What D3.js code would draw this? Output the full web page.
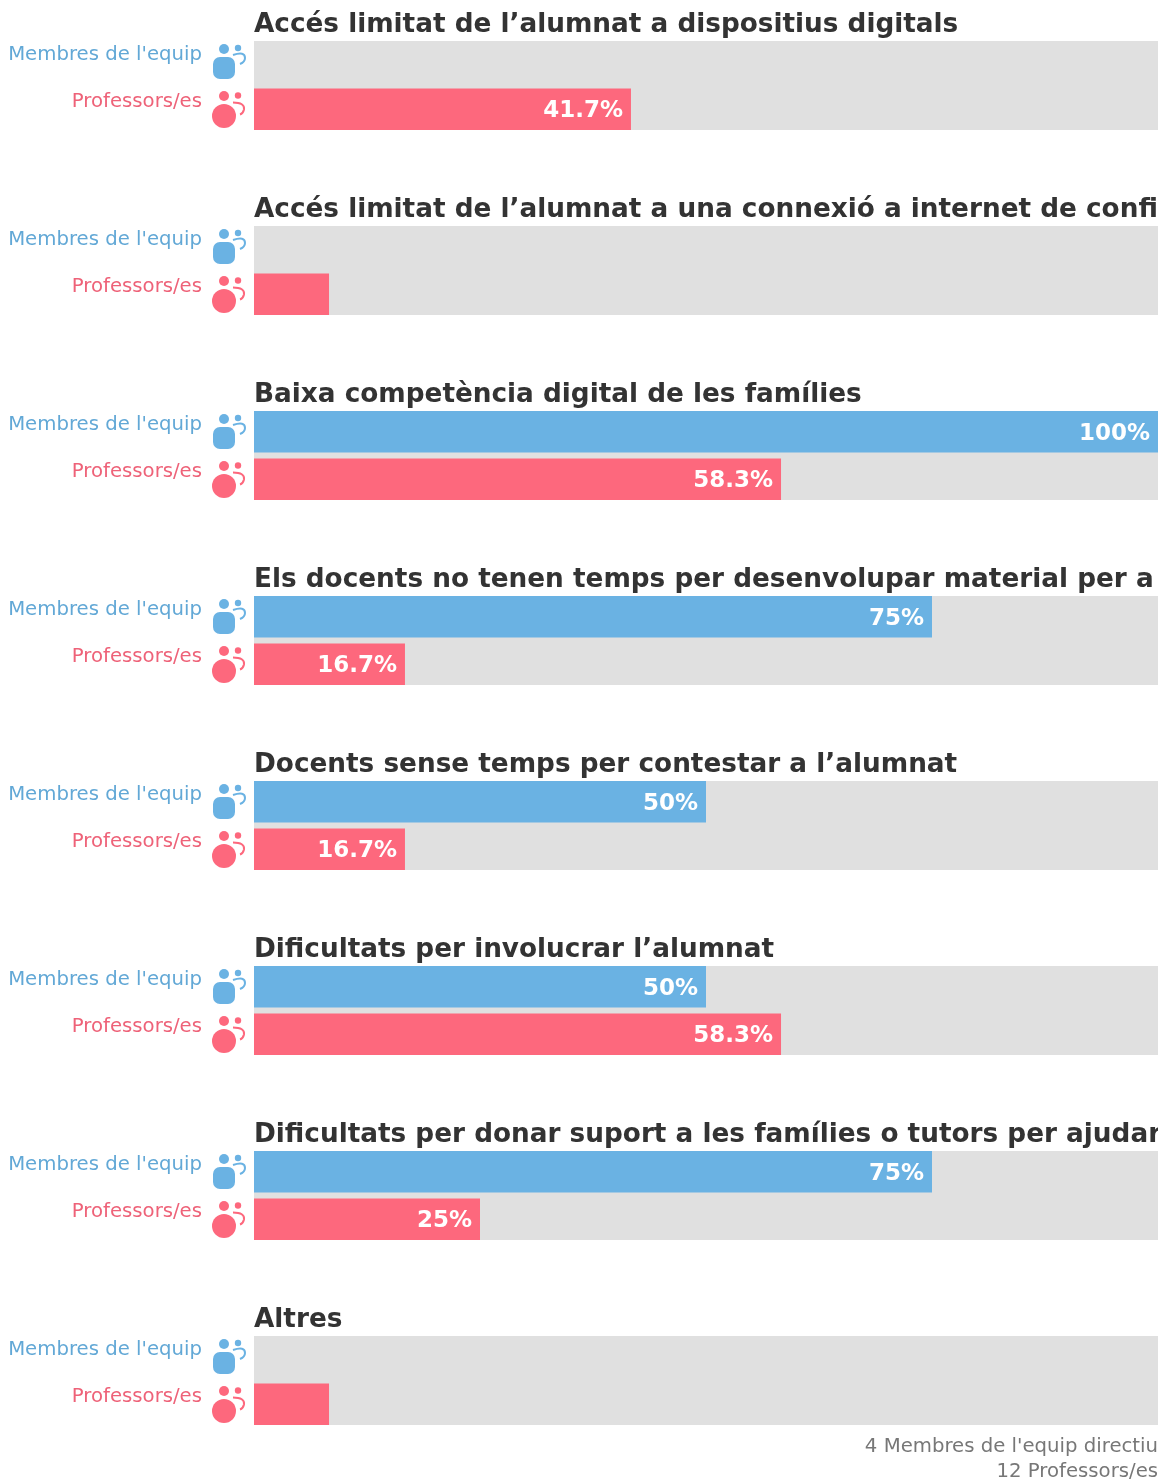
<!DOCTYPE html>
<html>
<head>
<meta charset="utf-8">
<script src="https://cdn.jsdelivr.net/npm/d3@7"></script>
<style>
  html, body { margin: 0; padding: 0; background: #fff; }
  svg { display: block; font-family: "DejaVu Sans", sans-serif; filter: blur(0.5px); }
</style>
</head>
<body>
<div id="chart"></div>
<script>
var categories = [
  "Accés limitat de l’alumnat a dispositius digitals",
  "Accés limitat de l’alumnat a una connexió a internet de confi",
  "Baixa competència digital de les famílies",
  "Els docents no tenen temps per desenvolupar material per a",
  "Docents sense temps per contestar a l’alumnat",
  "Dificultats per involucrar l’alumnat",
  "Dificultats per donar suport a les famílies o tutors per ajudar",
  "Altres"
];
var seriesNames = ["Membres de l'equip", "Professors/es"];
var equipValues = [0, 0, 100, 75, 50, 50, 75, 0];
var profValues = [41.7, 8.3, 58.3, 16.7, 16.7, 58.3, 25, 8.3];
var valueLabels = [
  [null, "41.7%"],
  [null, null],
  ["100%", "58.3%"],
  ["75%", "16.7%"],
  ["50%", "16.7%"],
  ["50%", "58.3%"],
  ["75%", "25%"],
  [null, null]
];
var footerLines = ["4 Membres de l'equip directiu", "12 Professors/es"];

var colors = ["#6ab2e3", "#fd687d"];
var labelColors = ["#62a8d6", "#ee6278"];

var width = 1164, height = 1479;
var plotLeft = 254, plotRight = 1158;
var rowHeight = 41.5, rowStep = 47.5, groupStep = 185, firstTop = 41;

var x = d3.scaleLinear().domain([0, 100]).range([plotLeft, plotRight]);
var y = d3.scaleBand()
    .domain(d3.range(categories.length))
    .range([firstTop, firstTop + groupStep * categories.length])
    .paddingInner(0).paddingOuter(0);
var rowY = d3.scaleOrdinal().domain([0, 1]).range([0, rowStep]);

var svg = d3.select("#chart").append("svg")
    .attr("width", width)
    .attr("height", height);

// the long titles are cut at the right end of the bars
svg.append("defs").append("clipPath")
    .attr("id", "titleClip")
  .append("rect")
    .attr("x", plotLeft)
    .attr("y", -60)
    .attr("width", plotRight - plotLeft)
    .attr("height", 60);

var group = svg.selectAll(".group")
    .data(categories)
  .enter().append("g")
    .attr("class", "group")
    .attr("transform", (d, i) => `translate(0,${y(i)})`);

group.append("text")
    .attr("clip-path", "url(#titleClip)")
    .attr("x", plotLeft)
    .attr("y", -9)
    .attr("font-size", 26.3)
    .attr("font-weight", "bold")
    .attr("fill", "#333333")
    .text(d => d);

// grey track behind both bars
group.append("rect")
    .attr("x", x(0))
    .attr("y", 0)
    .attr("width", x(100) - x(0))
    .attr("height", rowStep + rowHeight)
    .attr("fill", "#e0e0e0");

var row = group.selectAll(".row")
    .data((d, i) => seriesNames.map((name, s) => ({
      name: name,
      s: s,
      value: s == 0 ? equipValues[i] : profValues[i],
      label: valueLabels[i][s]
    })))
  .enter().append("g")
    .attr("class", "row")
    .attr("transform", d => `translate(0,${rowY(d.s)})`);

row.append("rect")
    .attr("x", x(0))
    .attr("width", d => x(d.value) - x(0))
    .attr("height", rowHeight)
    .attr("fill", d => colors[d.s]);

row.append("text")
    .attr("x", d => x(d.value) - 8)
    .attr("y", 28.5)
    .attr("text-anchor", "end")
    .attr("font-size", 23)
    .attr("font-weight", "bold")
    .attr("fill", "#fff")
    .text(d => d.label);

row.append("text")
    .attr("x", 202)
    .attr("y", d => d.s == 0 ? 19 : 18.5)
    .attr("text-anchor", "end")
    .attr("font-size", 19.7)
    .attr("fill", d => labelColors[d.s])
    .text(d => d.name);

// person icons
var icon = row.append("g")
    .attr("transform", "translate(212,3)")
    .attr("fill", d => colors[d.s]);

icon.append("circle")
    .attr("cx", 12)
    .attr("cy", d => d.s == 0 ? 5 : 4.5)
    .attr("r", 5);
icon.append("circle")
    .attr("cx", 26)
    .attr("cy", 4)
    .attr("r", 3.2);
icon.filter(d => d.s == 0).append("rect")
    .attr("x", 1)
    .attr("y", 13)
    .attr("width", 22)
    .attr("height", 22)
    .attr("rx", 7);
icon.filter(d => d.s == 1).append("circle")
    .attr("cx", 12)
    .attr("cy", 24.5)
    .attr("r", 12);
icon.append("path")
    .attr("d", d => d.s == 0 ? "M21,11 Q33,7 33,14 Q33,18 28,20" : "M21,11 Q33,11 32,18 Q31,22 28,23")
    .attr("fill", "none")
    .attr("stroke", d => colors[d.s])
    .attr("stroke-width", 2);

svg.selectAll(".footer")
    .data(footerLines)
  .enter().append("text")
    .attr("class", "footer")
    .attr("x", plotRight)
    .attr("y", (d, i) => 1452 + i * 25)
    .attr("text-anchor", "end")
    .attr("font-size", 19.7)
    .attr("fill", "#777777")
    .text(d => d);
</script>
</body>
</html>
